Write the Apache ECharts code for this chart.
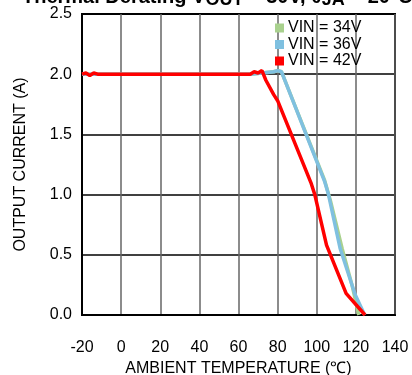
<!DOCTYPE html>
<html>
<head>
<meta charset="utf-8">
<script src="https://cdn.jsdelivr.net/npm/echarts@6/dist/echarts.min.js"></script>
<style>
html, body { margin: 0; padding: 0; background: #fff; }
#container { width: 412px; height: 375px; }
</style>
</head>
<body>
<div id="container"></div>
<script>
var seriesNames = ['VIN = 34V', 'VIN = 36V', 'VIN = 42V'];
var xTicks = [-20, 0, 20, 40, 60, 80, 100, 120, 140];
var yTicks = [0, 0.5, 1.0, 1.5, 2.0, 2.5];

var vin34 = [[-20, 2.0], [66, 2.0], [72, 2.01], [78, 2.02], [80, 2.03], [82, 2.02],
    [104, 1.12], [107, 0.95], [113, 0.55], [118, 0.25], [121.5, 0]];
var vin36 = [[-20, 2.0], [66, 2.0], [72, 2.01], [78, 2.02], [80, 2.03], [82, 2.02],
    [104, 1.11], [106, 1.0], [112, 0.55], [119.6, 0.17], [124.5, 0]];
var vin42 = [[-20, 2.0], [-18, 2.01], [-16, 1.99], [-14, 2.01], [-12, 2.0], [-10, 2.0],
    [66, 2.0], [68, 2.02], [70, 2.01], [72, 2.03], [74, 1.95], [78, 1.83], [80, 1.78],
    [97, 1.1], [99, 1.0], [105, 0.58], [115, 0.18], [124.7, 0]];

var colors = ['#a9d18e', '#7fc0e0', '#ff0000'];

var myChart = echarts.init(document.getElementById('container'));
var font = 'Liberation Sans, Arial, sans-serif';

var option = {
    animation: false,
    textStyle: { fontFamily: font },
    title: {
        text: '{m|Thermal Derating V}{s|OUT}{m| = 30V, θ}{s|JA}{m| = 20°C/W}',
        left: 17,
        top: -21,
        textStyle: {
            rich: {
                m: { fontSize: 20, lineHeight: 26, fontWeight: 'bold', color: '#000', fontFamily: font },
                s: { fontSize: 18, lineHeight: 26, fontWeight: 'bold', color: '#000', fontFamily: font, padding: [6, 0, 0, 0] }
            }
        }
    },
    legend: {
        data: seriesNames,
        orient: 'vertical',
        left: 275,
        top: 20,
        padding: 0,
        itemWidth: 9,
        itemHeight: 9,
        itemGap: 0.5,
        icon: 'rect',
        textStyle: { fontSize: 16, lineHeight: 16, color: '#000', fontFamily: font, padding: [0, 0, 0, -1] }
    },
    grid: {
        left: 82,
        right: 17,
        top: 14,
        bottom: 60,
        outerBoundsMode: 'none',
        show: true,
        borderColor: '#000',
        borderWidth: 2
    },
    xAxis: {
        type: 'value',
        min: xTicks[0],
        max: xTicks[xTicks.length - 1],
        interval: 20,
        name: 'AMBIENT TEMPERATURE (℃)',
        nameLocation: 'middle',
        nameGap: 46,
        nameTextStyle: { fontSize: 16, color: '#000', fontFamily: font },
        axisLine: { onZero: false, lineStyle: { color: '#000', width: 2 } },
        axisTick: { show: false },
        axisLabel: { fontSize: 16, color: '#000', margin: 25 },
        splitLine: { show: true, lineStyle: { color: '#666', width: 1.5 } }
    },
    yAxis: {
        type: 'value',
        min: yTicks[0],
        max: yTicks[yTicks.length - 1],
        interval: 0.5,
        name: 'OUTPUT CURRENT (A)',
        nameLocation: 'middle',
        nameGap: 53,
        nameTextStyle: { fontSize: 16, color: '#000', fontFamily: font },
        axisLine: { onZero: false, lineStyle: { color: '#000', width: 2 } },
        axisTick: { show: false },
        axisLabel: {
            fontSize: 16, color: '#000', margin: 10,
            formatter: function (v) { return v.toFixed(1); }
        },
        splitLine: { show: true, lineStyle: { color: '#000', width: 1.5 } }
    },
    series: [
        { name: seriesNames[0], type: 'line', data: vin34, showSymbol: false, color: colors[0], lineStyle: { width: 3.5 } },
        { name: seriesNames[1], type: 'line', data: vin36, showSymbol: false, color: colors[1], lineStyle: { width: 3.5 } },
        { name: seriesNames[2], type: 'line', data: vin42, showSymbol: false, color: colors[2], lineStyle: { width: 3.5 } }
    ]
};

myChart.setOption(option);
window.onresize = function () {
    myChart.resize();
};
</script>
</body>
</html>
